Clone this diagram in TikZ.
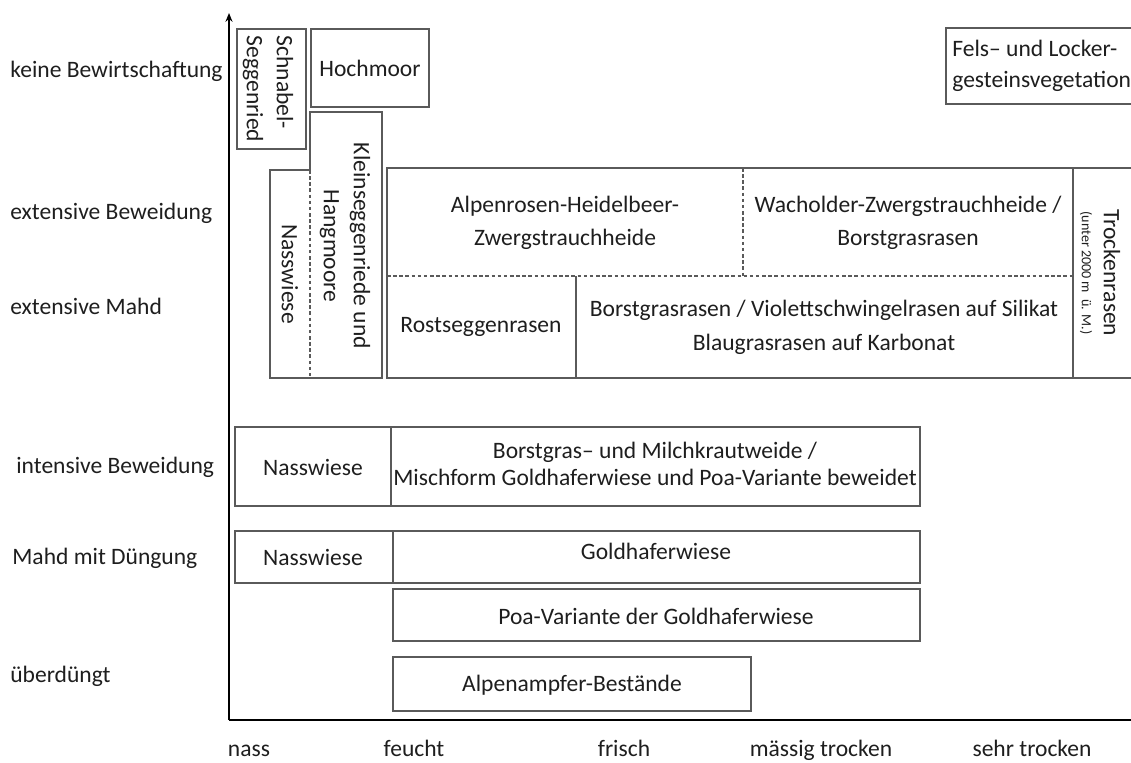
\documentclass[tikz,border=0pt]{standalone}
\usepackage{fontspec}
\setmainfont{Carlito}
\usetikzlibrary{arrows.meta}

\definecolor{boxgray}{RGB}{90,90,90}
\definecolor{textdark}{RGB}{30,30,30}

\begin{document}
\begin{tikzpicture}[x=0.02cm, y=-0.02cm,
  every node/.style={text=textdark, font=\fontsize{13.4}{17}\selectfont, inner sep=0pt},
  box/.style={draw=boxgray, line width=0.6pt},
  divide/.style={dash pattern=on 2pt off 1.5pt},
  axis/.style={black, line width=1.2pt},
  level/.style={anchor=west},
  moisture/.style={anchor=base},
  vert/.style={rotate=-90, align=center}]

\useasboundingbox (0,0) rectangle (1131,763);

% Axes
\coordinate (origin) at (229,720);
\coordinate (ytop) at (229,13);
\coordinate (xend) at (1131,720);
\draw[axis, -{Stealth[length=5pt, width=4pt]}] (origin) -- (ytop);
\draw[axis] (origin) -- (xend);

% Management levels
\node[level] (keine) at (10,71) {keine Bewirtschaftung};
\node[level] (extbew) at (10,213) {extensive Beweidung};
\node[level] (extmahd) at (10,306) {extensive Mahd};
\node[level] (intbew) at (16,467) {intensive Beweidung};
\node[level] (duengung) at (12,558) {Mahd mit Düngung};
\node[level] (ueber) at (10,676) {überdüngt};

% Moisture classes
\node[moisture] (nass) at (249,756) {nass};
\node[moisture] (feucht) at (414,756) {feucht};
\node[moisture] (frisch) at (624,756) {frisch};
\node[moisture] (maessig) at (821,756) {mässig trocken};
\node[moisture] (sehr) at (1032,756) {sehr trocken};

% No management
\draw[box] (237,29) rectangle (306,149);
\node[rotate=-90, align=left] (schnabel) at (268,89) {Schnabel-\\Seggenried};
\draw[box] (311,29) rectangle (429,107);
\node (hochmoor) at (370,68) {Hochmoor};
\draw[box] (1131,28) -- (946,28) -- (946,104) -- (1131,104);
\node[anchor=west, align=left, font=\fontsize{13.4}{18}\selectfont] (fels) at (952,66) {Fels– und Locker-\\gesteinsvegetation};

% Wet sites
\draw[box] (310,170) -- (310,112) -- (382,112) -- (382,378) -- (310,378);
\draw[box] (310,170) -- (270,170) -- (270,378) -- (310,378);
\draw[box, divide] (310,170) -- (310,378);
\node[vert] (nassvert) at (290,274) {Nasswiese};
\node[vert] (klein) at (345,246) {Kleinseggenriede und\\Hangmoore};

% Extensive use
\draw[box] (387,168) rectangle (1073,378);
\draw[box, divide] (387,276) -- (1073,276);
\draw[box, divide] (743,168) -- (743,276);
\draw[box] (576,276) -- (576,378);
\node[align=center, font=\fontsize{13.4}{19}\selectfont] (alpenrosen) at (565,223) {Alpenrosen-Heidelbeer-\\Zwergstrauchheide};
\node[align=center, font=\fontsize{13.4}{19}\selectfont] (wacholder) at (908,223) {Wacholder-Zwergstrauchheide /\\Borstgrasrasen};
\node (rostseggen) at (481,327) {Rostseggenrasen};
\node[align=center, font=\fontsize{13.4}{19.5}\selectfont] (borstgras) at (824,327) {Borstgrasrasen / Violettschwingelrasen auf Silikat\\Blaugrasrasen auf Karbonat};

% Dry grassland
\draw[box] (1131,168) -- (1073,168) -- (1073,378) -- (1131,378);
\node[rotate=-90] (trocken) at (1112,273) {Trockenrasen};
\node[rotate=-90, font=\fontsize{8}{9}\selectfont] (trockenalt) at (1086,273) {(unter 2000 m~~ü. M.)};

% Intensive pasture
\draw[box] (235,427) rectangle (391,506);
\draw[box] (391,427) rectangle (920,506);
\node (nassweide) at (313,467) {Nasswiese};
\node[align=center, font=\fontsize{13.4}{15.3}\selectfont] (milchkraut) at (655,464) {Borstgras– und Milchkrautweide /\\Mischform Goldhaferwiese und Poa-Variante beweidet};

% Mowing with fertilisation
\draw[box] (235,531) rectangle (393,583);
\draw[box] (393,531) rectangle (920,583);
\node (nassmahd) at (313,557) {Nasswiese};
\node (goldhafer) at (656,551) {Goldhaferwiese};
\draw[box] (393,589) rectangle (920,641);
\node (poa) at (656,616) {Poa-Variante der Goldhaferwiese};

% Over-fertilised
\draw[box] (393,657) rectangle (751,711);
\node (alpenampfer) at (572,685) {Alpenampfer-Bestände};

\end{tikzpicture}
\end{document}
